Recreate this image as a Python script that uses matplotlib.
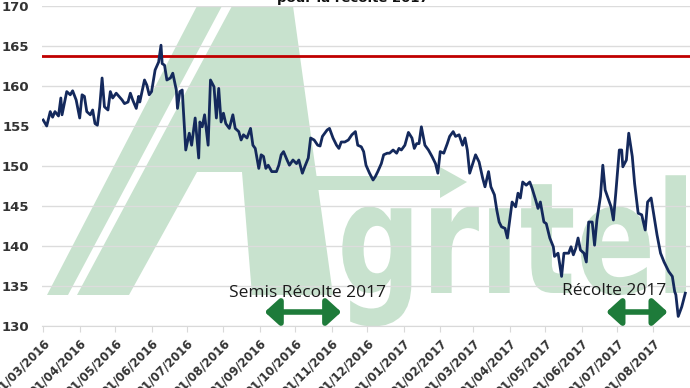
import matplotlib
matplotlib.use("Agg")
import matplotlib.pyplot as plt
from matplotlib.path import Path
from matplotlib.patches import Polygon, PathPatch
from matplotlib.textpath import TextPath
from matplotlib.font_manager import FontProperties
import numpy as np
import pandas as pd

# prix (EUR/t), jours comptes depuis le 01/03/2016
start_date = pd.Timestamp("2016-03-01")
day_offset = [0, 3, 6, 8, 10, 13, 15, 16, 20, 23, 25, 28, 31, 33, 35, 37, 40, 42, 44, 46,
              48, 50, 52, 55, 57, 59, 62, 67, 69, 72, 74, 76, 79, 81, 82, 86, 88, 90, 92, 95,
              98, 100, 101, 103, 105, 108, 110, 113, 114, 116, 118, 121, 124, 126, 129, 132, 133, 135, 137, 140,
              142, 145, 147, 149, 151, 153, 155, 158, 161, 163, 166, 168, 170, 173, 176, 178, 180, 183, 185, 187,
              189, 191, 194, 198, 200, 202, 204, 207, 209, 212, 215, 217, 220, 222, 225, 227, 230, 233, 235, 237,
              241, 243, 246, 249, 251, 253, 256, 259, 262, 265, 267, 270, 272, 274, 277, 280, 282, 284, 287, 289,
              292, 294, 297, 300, 302, 304, 307, 310, 313, 315, 317, 319, 321, 324, 327, 330, 333, 335, 337, 340,
              343, 345, 348, 350, 353, 356, 358, 360, 362, 365, 367, 370, 373, 375, 378, 380, 383, 385, 387, 389,
              392, 394, 396, 398, 401, 403, 405, 407, 410, 413, 415, 418, 420, 422, 425, 427, 430, 433, 434, 437,
              440, 442, 446, 448, 450, 452, 454, 456, 459, 461, 463, 466, 468, 470, 473, 475, 477, 480, 482, 484,
              486, 489, 491, 492, 495, 497, 500, 502, 505, 508, 511, 513, 516, 519, 521, 524, 527, 531, 534, 536,
              537, 539, 542, 545]
price = [155.75, 155.0, 156.8, 156.1, 156.8, 156.25, 158.5, 156.4, 159.3, 158.9, 159.4, 158.25, 156.0, 158.9, 158.7, 156.8, 156.4, 157.0, 155.3, 155.1,
         157.4, 161.0, 157.4, 157.0, 159.3, 158.5, 159.1, 158.25, 157.8, 158.0, 159.1, 158.25, 157.2, 158.7, 158.0, 160.75, 160.1, 158.9, 159.3, 162.0,
         163.0, 165.1, 162.8, 162.6, 160.75, 161.0, 161.6, 159.5, 157.2, 159.3, 159.5, 152.0, 154.1, 152.6, 156.0, 151.0, 155.5, 154.9, 156.4, 152.6,
         160.75, 159.9, 156.0, 159.7, 155.5, 156.6, 155.3, 154.7, 156.4, 154.7, 154.3, 153.25, 153.9, 153.5, 154.7, 152.6, 152.2, 149.7, 151.4, 151.2,
         149.7, 150.1, 149.3, 149.3, 150.1, 151.4, 151.8, 150.75, 150.1, 150.75, 150.3, 150.75, 149.1, 149.9, 151.0, 153.5, 153.25, 152.6, 152.5, 153.7,
         154.5, 154.7, 153.5, 152.6, 152.2, 153.0, 153.0, 153.25, 153.9, 154.3, 152.6, 152.4, 151.8, 150.1, 149.1, 148.25, 148.7, 149.3, 150.3, 151.4,
         151.6, 151.6, 152.0, 151.6, 152.2, 152.0, 152.6, 154.2, 153.5, 152.2, 152.8, 152.8, 154.9, 152.6, 152.0, 151.2, 150.3, 149.1, 151.8, 151.6,
         152.8, 153.7, 154.3, 153.7, 153.9, 152.6, 153.5, 152.0, 149.1, 150.5, 151.4, 150.5, 148.5, 147.4, 149.3, 147.4, 146.4, 144.5, 143.0, 142.4,
         142.2, 141.0, 143.25, 145.5, 144.9, 146.6, 146.0, 148.0, 147.6, 148.0, 147.2, 145.75, 144.7, 145.5, 143.0, 142.8, 141.0, 139.9, 138.7, 139.1,
         136.2, 139.1, 139.1, 139.9, 138.9, 139.7, 141.0, 139.5, 139.1, 138.0, 143.0, 143.0, 140.1, 143.25, 146.2, 150.1, 147.0, 145.75, 144.9, 143.25,
         146.6, 152.0, 152.0, 149.9, 150.75, 154.1, 151.2, 147.8, 144.1, 143.9, 142.0, 145.5, 146.0, 143.25, 141.4, 139.1, 138.0, 136.8, 136.2, 134.3,
         133.9, 131.2, 132.4, 134.1]
seuil = 163.7
tick_months = pd.date_range("2016-03-01", "2017-08-01", freq="MS")
semis_period = ("2016-09-05", "2016-11-09")
recolte_period = ("2017-06-22", "2017-08-13")
arrow_level = 131.75
labels = ["Semis Récolte 2017", "Récolte 2017"]
label_pos = [("2016-10-11", 134.1), ("2017-06-29", 134.4)]

W, H = 690, 388
wm_green = "#c8e2ce"
fig = plt.figure(figsize=(W / 100, H / 100), dpi=100)
fig.patch.set_facecolor("white")

def px(x, y):
    return (x / W, 1 - y / H)

# filigrane Agritel
thin_band = [(47, 295), (68, 295), (222, 6), (197, 6)]
big_a = [(77, 295), (232, 6), (293, 6), (333, 295), (252, 295), (242, 172), (197, 172), (129, 295)]
fleche = [(305, 176), (440, 176), (440, 167), (467, 182), (440, 198), (440, 190), (305, 190)]
for shape in (thin_band, big_a, fleche):
    fig.add_artist(Polygon([px(*p) for p in shape], closed=True, transform=fig.transFigure,
                           facecolor=wm_green, edgecolor="none", zorder=-2))

# le point du i est remplace par la fleche du logo
tp = TextPath((0, 0), "gr\u0131tel", size=1, prop=FontProperties(family="DejaVu Sans", weight="bold"))
v = tp.vertices.copy()
xmin, xmax = v[:, 0].min(), v[:, 0].max()
sx = (686 - 337) / (xmax - xmin)
sy = 155
new_v = np.column_stack([(337 + (v[:, 0] - xmin) * sx) / W, 1 - (293 - v[:, 1] * sy) / H])
fig.add_artist(PathPatch(Path(new_v, tp.codes), transform=fig.transFigure,
                         facecolor=wm_green, edgecolor="none", zorder=-2))

ax = fig.add_axes([42 / W, 62 / H, 648 / W, 320 / H])
ax.set_facecolor("none")

dates = start_date + pd.to_timedelta(day_offset, unit="D")
ax.plot(dates, price, color="#14295c", lw=2, zorder=3)
ax.axhline(seuil, color="#c00000", lw=2, zorder=2)

ax.set_ylim(130, 170)
ax.set_yticks(range(130, 171, 5))
ax.set_xlim(start_date - pd.Timedelta(days=1), start_date + pd.Timedelta(days=549))
ax.set_xticks(tick_months)
ax.set_xticklabels([d.strftime("%d/%m/%Y") for d in tick_months], rotation=45, ha="right",
                   rotation_mode="anchor", fontsize=8.5, fontweight="bold", color="#333333")
for t in ax.get_yticklabels():
    t.set_fontsize(9.5)
    t.set_fontweight("bold")
    t.set_color("#333333")
ax.grid(axis="y", color="#dcdcdc", lw=1)
ax.set_axisbelow(True)
for s in ["top", "right", "left"]:
    ax.spines[s].set_visible(False)
ax.spines["bottom"].set_color("#d9d9d9")
ax.tick_params(axis="y", length=0, pad=9)
ax.tick_params(axis="x", length=4, color="#d9d9d9", pad=4)

arrow_green = "#1e7b3a"
for a, b in (semis_period, recolte_period):
    ax.annotate("", xy=(pd.Timestamp(b), arrow_level), xytext=(pd.Timestamp(a), arrow_level),
                arrowprops=dict(arrowstyle="<|-|>,head_length=0.55,head_width=0.5", lw=4,
                                color=arrow_green, mutation_scale=16, shrinkA=0, shrinkB=0),
                zorder=4)
for txt, (d, y) in zip(labels, label_pos):
    ax.text(pd.Timestamp(d), y, txt, ha="center", va="center", fontsize=12.5,
            family="Open Sans", color="#1a1a1a", zorder=4)

fig.text(353 / W, 1 - 2 / H, "Evolution des prix du blé\npour la récolte 2017", ha="center",
         va="baseline", fontsize=9.5, fontweight="bold", color="#111111")

fig.savefig("out.png", dpi=100)
